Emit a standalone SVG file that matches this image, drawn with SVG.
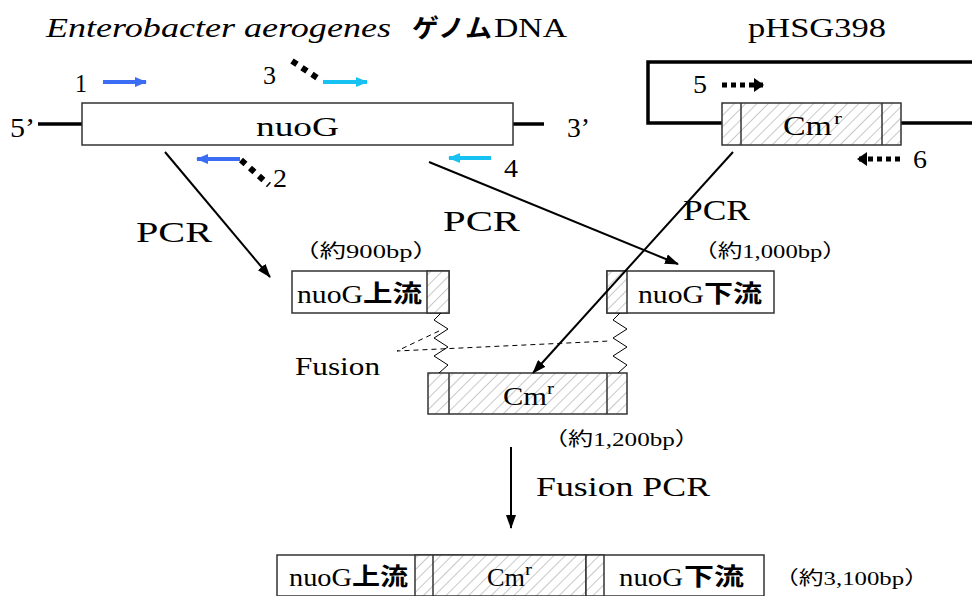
<svg xmlns="http://www.w3.org/2000/svg" width="972" height="596" viewBox="0 0 972 596">
  <style>
    .box { fill: #fff; stroke: #333; stroke-width: 1.5; }
    .hatch { fill: url(#hatch); stroke: #333; stroke-width: 1.5; }
    .div { stroke: #333; stroke-width: 1.5; }
    .dna { fill: none; stroke: #000; stroke-width: 3.5; }
    .flow { fill: none; stroke: #000; stroke-width: 2; }
    .spring { fill: none; stroke: #000; stroke-width: 1; }
    .dash { fill: none; stroke: #000; stroke-width: 1; stroke-dasharray: 5 4; }
    .dots { fill: none; stroke: #000; stroke-width: 6; stroke-dasharray: 6 6; }
    .hdots { fill: none; stroke: #000; stroke-width: 5; stroke-dasharray: 5 4; }
  </style>
  <defs>
    <pattern id="hatch" width="8" height="8" patternUnits="userSpaceOnUse" patternTransform="rotate(45)">
      <rect width="8" height="8" fill="#fff"/>
      <line x1="0" y1="0" x2="0" y2="8" stroke="#c8c8c8" stroke-width="2"/>
    </pattern>
    <marker id="head" viewBox="0 0 14 10" refX="13" refY="5" markerWidth="14" markerHeight="10" markerUnits="userSpaceOnUse" orient="auto">
      <path d="M0,0 L14,5 L0,10 Z" fill="#000"/>
    </marker>
    <marker id="headBlue" viewBox="0 0 12 10" refX="11" refY="5" markerWidth="12" markerHeight="10" markerUnits="userSpaceOnUse" orient="auto">
      <path d="M0,0 L12,5 L0,10 Z" fill="#3a6cf4"/>
    </marker>
    <marker id="headCyan" viewBox="0 0 12 10" refX="11" refY="5" markerWidth="12" markerHeight="10" markerUnits="userSpaceOnUse" orient="auto">
      <path d="M0,0 L12,5 L0,10 Z" fill="#17c1f2"/>
    </marker>
    <marker id="headTri" viewBox="0 0 10 14" refX="9" refY="7" markerWidth="10" markerHeight="14" markerUnits="userSpaceOnUse" orient="auto">
      <path d="M0,0 L10,7 L0,14 Z" fill="#000"/>
    </marker>
  </defs>

  <!-- titles -->
  <g id="title-genome">
    <text x="46" y="37" font-family="Liberation Serif" font-size="27" font-style="italic" textLength="345" lengthAdjust="spacingAndGlyphs">Enterobacter aerogenes</text>
    <text x="412" y="37" font-family="Noto Sans CJK JP" font-weight="bold" font-size="25" textLength="80" lengthAdjust="spacingAndGlyphs">ゲノム</text>
    <text x="494" y="37" font-family="Liberation Serif" font-size="27" textLength="73" lengthAdjust="spacingAndGlyphs">DNA</text>
  </g>
  <g id="title-plasmid">
    <text x="748" y="37" font-family="Liberation Serif" font-size="27" textLength="138" lengthAdjust="spacingAndGlyphs">pHSG398</text>
  </g>

  <!-- genomic DNA with nuoG -->
  <g id="genome">
    <line x1="38" y1="124" x2="82" y2="124" class="dna"/>
    <line x1="513" y1="124" x2="544" y2="124" class="dna"/>
    <rect x="82" y="103" width="431" height="42" class="box"/>
    <text x="256" y="136" font-family="Liberation Serif" font-size="27" textLength="83" lengthAdjust="spacingAndGlyphs">nuoG</text>
    <text x="10" y="137" font-family="Liberation Serif" font-size="27" textLength="25" lengthAdjust="spacingAndGlyphs">5’</text>
    <text x="567" y="137" font-family="Liberation Serif" font-size="27" textLength="23" lengthAdjust="spacingAndGlyphs">3’</text>
  </g>

  <!-- primers on the genome -->
  <g id="primer1">
    <text x="75" y="92" font-family="Liberation Serif" font-size="26" textLength="12" lengthAdjust="spacingAndGlyphs">1</text>
    <line x1="103" y1="82" x2="146" y2="82" stroke="#3a6cf4" stroke-width="4" marker-end="url(#headBlue)"/>
  </g>
  <g id="primer2">
    <line x1="240" y1="159" x2="197" y2="159" stroke="#3a6cf4" stroke-width="4" marker-end="url(#headBlue)"/>
    <line x1="241" y1="160" x2="269" y2="185" class="dots"/>
    <text x="273" y="187" font-family="Liberation Serif" font-size="26" textLength="14" lengthAdjust="spacingAndGlyphs">2</text>
  </g>
  <g id="primer3">
    <text x="263" y="84" font-family="Liberation Serif" font-size="26" textLength="13" lengthAdjust="spacingAndGlyphs">3</text>
    <line x1="292" y1="61" x2="322" y2="81" class="dots"/>
    <line x1="323" y1="82" x2="367" y2="82" stroke="#17c1f2" stroke-width="4" marker-end="url(#headCyan)"/>
  </g>
  <g id="primer4">
    <line x1="491" y1="158" x2="449" y2="158" stroke="#17c1f2" stroke-width="4" marker-end="url(#headCyan)"/>
    <text x="504" y="177" font-family="Liberation Serif" font-size="26" textLength="14" lengthAdjust="spacingAndGlyphs">4</text>
  </g>

  <!-- plasmid with Cm resistance cassette -->
  <g id="plasmid">
    <polyline points="972,62 648,62 648,123 722,123" class="dna"/>
    <line x1="901" y1="123" x2="972" y2="123" class="dna"/>
    <rect x="722" y="103" width="179" height="42" class="hatch"/>
    <line x1="741" y1="103" x2="741" y2="145" class="div"/>
    <line x1="882" y1="103" x2="882" y2="145" class="div"/>
    <text x="783" y="135" font-family="Liberation Serif" font-size="27" textLength="49" lengthAdjust="spacingAndGlyphs">Cm</text>
    <text x="834" y="124" font-family="Liberation Serif" font-size="17" textLength="8" lengthAdjust="spacingAndGlyphs">r</text>
  </g>
  <g id="primer5">
    <text x="693" y="93" font-family="Liberation Serif" font-size="26" textLength="14" lengthAdjust="spacingAndGlyphs">5</text>
    <line x1="722" y1="85" x2="763" y2="85" class="hdots" marker-end="url(#headTri)"/>
  </g>
  <g id="primer6">
    <line x1="900" y1="159" x2="858" y2="159" class="hdots" marker-end="url(#headTri)"/>
    <text x="913" y="168" font-family="Liberation Serif" font-size="26" textLength="14" lengthAdjust="spacingAndGlyphs">6</text>
  </g>

  <!-- PCR products -->
  <g id="upstream">
    <text x="293" y="258" font-family="Liberation Serif" font-size="19" textLength="146" lengthAdjust="spacingAndGlyphs"><tspan font-family="Noto Sans CJK JP">（約</tspan>900bp<tspan font-family="Noto Sans CJK JP">）</tspan></text>
    <rect x="292" y="271" width="157" height="42" class="box"/>
    <rect x="427" y="271" width="22" height="42" class="hatch"/>
    <text x="297" y="303" font-family="Liberation Serif" font-size="26" textLength="66" lengthAdjust="spacingAndGlyphs">nuoG</text>
    <text x="363" y="302" font-family="Noto Sans CJK JP" font-weight="bold" font-size="24" textLength="59" lengthAdjust="spacingAndGlyphs">上流</text>
  </g>
  <g id="downstream">
    <text x="693" y="258" font-family="Liberation Serif" font-size="19" textLength="154" lengthAdjust="spacingAndGlyphs"><tspan font-family="Noto Sans CJK JP">（約</tspan>1,000bp<tspan font-family="Noto Sans CJK JP">）</tspan></text>
    <rect x="607" y="271" width="167" height="42" class="box"/>
    <rect x="607" y="271" width="20" height="42" class="hatch"/>
    <text x="638" y="303" font-family="Liberation Serif" font-size="26" textLength="66" lengthAdjust="spacingAndGlyphs">nuoG</text>
    <text x="704" y="302" font-family="Noto Sans CJK JP" font-weight="bold" font-size="24" textLength="58" lengthAdjust="spacingAndGlyphs">下流</text>
  </g>
  <g id="cm-fragment">
    <rect x="428" y="373" width="199" height="41" class="hatch"/>
    <line x1="449" y1="373" x2="449" y2="414" class="div"/>
    <line x1="607" y1="373" x2="607" y2="414" class="div"/>
    <text x="503" y="405" font-family="Liberation Serif" font-size="26" textLength="44" lengthAdjust="spacingAndGlyphs">Cm</text>
    <text x="547" y="394" font-family="Liberation Serif" font-size="16" textLength="7" lengthAdjust="spacingAndGlyphs">r</text>
    <text x="543" y="446" font-family="Liberation Serif" font-size="19" textLength="157" lengthAdjust="spacingAndGlyphs"><tspan font-family="Noto Sans CJK JP">（約</tspan>1,200bp<tspan font-family="Noto Sans CJK JP">）</tspan></text>
  </g>

  <!-- overlapping ends annealed during fusion -->
  <g id="fusion">
    <polyline points="441,313 434,320 448,329 434,338 448,347 434,356 448,365 439,373" class="spring"/>
    <polyline points="620,313 613,320 627,329 613,338 627,347 613,356 627,365 618,373" class="spring"/>
    <polyline points="439,331 397,351 610,341" class="dash"/>
    <text x="295" y="375" font-family="Liberation Serif" font-size="26" textLength="85" lengthAdjust="spacingAndGlyphs">Fusion</text>
  </g>

  <!-- final fused product -->
  <g id="fused-product">
    <rect x="277" y="555" width="487" height="41" class="box"/>
    <rect x="415" y="555" width="171" height="41" class="hatch"/>
    <line x1="433" y1="555" x2="433" y2="596" class="div"/>
    <rect x="586" y="555" width="18" height="41" class="hatch"/>
    <text x="289" y="586" font-family="Liberation Serif" font-size="26" textLength="63" lengthAdjust="spacingAndGlyphs">nuoG</text>
    <text x="352" y="585" font-family="Noto Sans CJK JP" font-weight="bold" font-size="24" textLength="56" lengthAdjust="spacingAndGlyphs">上流</text>
    <text x="487" y="586" font-family="Liberation Serif" font-size="26" textLength="38" lengthAdjust="spacingAndGlyphs">Cm</text>
    <text x="525" y="575" font-family="Liberation Serif" font-size="16" textLength="7" lengthAdjust="spacingAndGlyphs">r</text>
    <text x="619" y="586" font-family="Liberation Serif" font-size="26" textLength="64" lengthAdjust="spacingAndGlyphs">nuoG</text>
    <text x="684" y="585" font-family="Noto Sans CJK JP" font-weight="bold" font-size="24" textLength="60" lengthAdjust="spacingAndGlyphs">下流</text>
    <text x="774" y="585" font-family="Liberation Serif" font-size="19" textLength="155" lengthAdjust="spacingAndGlyphs"><tspan font-family="Noto Sans CJK JP">（約</tspan>3,100bp<tspan font-family="Noto Sans CJK JP">）</tspan></text>
  </g>

  <!-- reaction arrows -->
  <g id="connectors">
    <line x1="165" y1="152" x2="270" y2="277" class="flow" marker-end="url(#head)"/>
    <line x1="429" y1="162" x2="678" y2="264" class="flow" marker-end="url(#head)"/>
    <line x1="733" y1="152" x2="533" y2="373" class="flow" marker-end="url(#head)"/>
    <line x1="511" y1="447" x2="511" y2="528" class="flow" marker-end="url(#head)"/>
    <text x="136" y="242" font-family="Liberation Serif" font-size="30" textLength="76" lengthAdjust="spacingAndGlyphs">PCR</text>
    <text x="443" y="231" font-family="Liberation Serif" font-size="30" textLength="77" lengthAdjust="spacingAndGlyphs">PCR</text>
    <text x="683" y="220" font-family="Liberation Serif" font-size="30" textLength="67" lengthAdjust="spacingAndGlyphs">PCR</text>
    <text x="536" y="496" font-family="Liberation Serif" font-size="28" textLength="174" lengthAdjust="spacingAndGlyphs">Fusion PCR</text>
  </g>
</svg>
